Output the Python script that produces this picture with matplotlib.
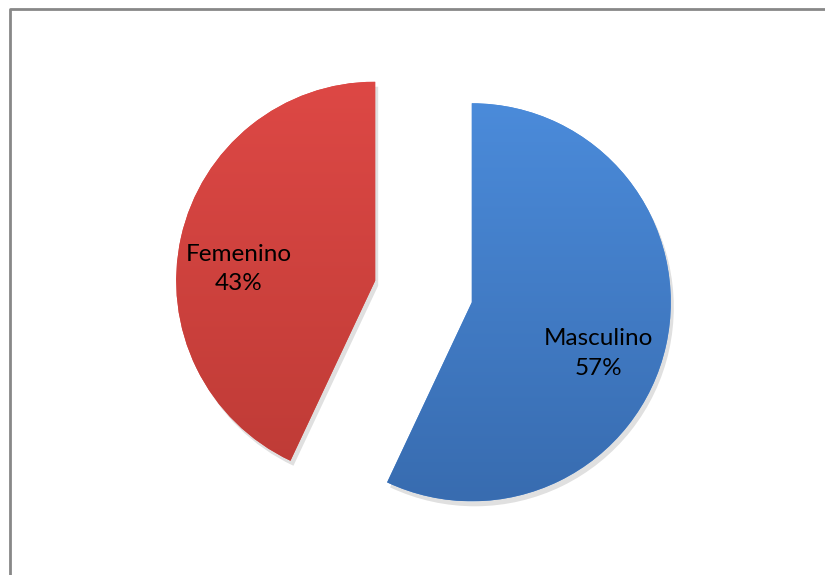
import numpy as np
import matplotlib
matplotlib.use("Agg")
import matplotlib.pyplot as plt
from matplotlib.patches import Wedge
from matplotlib.colors import LinearSegmentedColormap

labels = ["Masculino", "Femenino"]
values = [57, 43]
top_colors = ["#4b8bda", "#dd4845"]
bottom_colors = ["#386cb0", "#be3b36"]
label_angles = [-22, 175]  # where Excel put the labels, degrees

W, H = 825, 575
fig = plt.figure(figsize=(W / 100, H / 100), dpi=100)
ax = fig.add_axes([0, 0, 1, 1])

radius = 199
wedges, _ = ax.pie(values, center=(423.5, 283.5), radius=radius,
                   startangle=90, counterclock=False,
                   explode=[49.5, 49.5], colors=top_colors,
                   wedgeprops=dict(linewidth=0), frame=True)
ax.set_xlim(0, W)
ax.set_ylim(0, H)
ax.set_aspect("equal")
ax.axis("off")

for i, w in enumerate(wedges):
    cx, cy = w.center
    # soft shadow
    sh = Wedge((cx + 3, cy - 5), radius, w.theta1, w.theta2,
               color="#000000", alpha=0.12, lw=0, zorder=0.5)
    ax.add_patch(sh)
    w.set_zorder(1)
    cmap = LinearSegmentedColormap.from_list("g", [bottom_colors[i], top_colors[i]])
    grad = np.linspace(0, 1, 256).reshape(-1, 1)
    im = ax.imshow(grad, cmap=cmap, origin="lower", aspect="auto",
                   extent=[cx - radius, cx + radius, cy - radius, cy + radius], zorder=1.5)
    im.set_clip_path(w)
    a = np.deg2rad(label_angles[i])
    r = 137
    ax.text(cx + r * np.cos(a), cy + r * np.sin(a),
            "%s\n%d%%" % (labels[i], values[i]), ha="center", va="center",
            fontsize=17.5, family=["Lato", "DejaVu Sans"], color="black",
            linespacing=1.5, zorder=3)

# outer frame, only top and left visible in the crop
ax.plot([9.5, 9.5, W + 5], [-5, H - 8.5, H - 8.5], color="#888888", lw=2, zorder=4,
        clip_on=False)

fig.savefig("out.png", dpi=100)
